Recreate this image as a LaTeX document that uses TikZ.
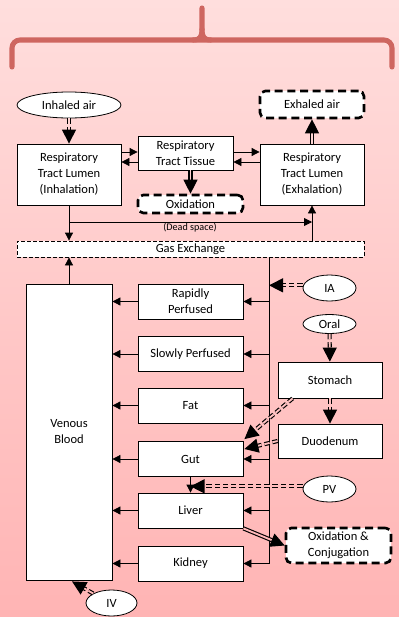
\documentclass[tikz,border=0pt]{standalone}
\usepackage{fontspec}
\setmainfont{Carlito}
\definecolor{pkTop}{RGB}{255, 222, 221}
\definecolor{pkBottom}{RGB}{255, 180, 180}
\definecolor{pkBrace}{RGB}{206, 102, 96}
\usepackage{tikz}
\usetikzlibrary{
  shapes.geometric,
  arrows.meta,
  positioning,
  calc
}
\tikzset{
  % Kutular
  basenode/.style={
    draw=black,
    fill=white,
    line width=0.6pt,
    inner sep=0pt,
    text centered,
    align=center,
    font=\fontsize{9.4}{12}\selectfont
  },
  compbox/.style={basenode, minimum width=78.75pt, minimum height=26.25pt},
  lumenbox/.style={basenode, minimum width=78pt, minimum height=45.75pt},
  sidebox/.style={basenode, minimum width=78pt, minimum height=26.25pt},
  fatebox/.style={basenode, rounded corners=4pt, line width=2pt, dash pattern=on 6pt off 3.5pt},
  gasbox/.style={basenode, dash pattern=on 3pt off 1.5pt, minimum width=260.25pt, minimum height=12pt},
  routenode/.style={basenode, ellipse, minimum width=39.75pt, minimum height=19.5pt},
  % Oklar (parametre = arka plan tonu)
  arrow/.style={-{Triangle[length=6pt, width=6pt]}, line width=0.6pt},
  dblarrow/.style={-{Triangle[length=10.5pt, width=10.5pt]}, double=pkBottom!#1!pkTop, double distance=1.4pt, line width=0.85pt},
  dbldash/.style={dblarrow=#1, dash pattern=on 4pt off 2.2pt},
  % Küçük etiket
  label node/.style={font=\fontsize{7.6}{9}\selectfont, inner sep=1pt}
}
\begin{document}
\begin{tikzpicture}[x=0.75pt, y=-0.75pt]
  \fill[top color=pkTop, bottom color=pkBottom] (0,0) rectangle (399,617);
  \useasboundingbox (0,0) rectangle (399,617);
  % brace
  \draw[pkBrace, line width=3.8pt, line cap=round, rounded corners=6pt]
    (12,67) -- (12,40) -- (392,40) -- (392,67);
  \draw[pkBrace, line width=3.8pt, line cap=round]
    (193,40) .. controls (200,40) and (202,37) .. (202,29) -- (202,8);
  \draw[pkBrace, line width=3.8pt, line cap=round]
    (211,40) .. controls (204,40) and (202,37) .. (202,29);

  \node[basenode, ellipse, minimum width=78pt, minimum height=19.5pt] (inair) at (69,105) {Inhaled air};
  \node[fatebox, minimum width=78pt, minimum height=20.25pt] (exair) at (312,104.5) {Exhaled air};
  \node[lumenbox] (inh) at (69,174.5) {Respiratory\\Tract Lumen\\(Inhalation)};
  \node[basenode, minimum width=71.25pt, minimum height=25.5pt] (tis) at (185.5,153) {Respiratory\\Tract Tissue};
  \node[lumenbox] (exh) at (312,174.5) {Respiratory\\Tract Lumen\\(Exhalation)};
  \node[fatebox, minimum width=78.75pt, minimum height=13.5pt] (oxi) at (190.5,204) {Oxidation};
  \node[gasbox] (gas) at (190.5,249) {Gas Exchange};
  \node[label node] (dead) at (190,227.5) {(Dead space)};

  \node[basenode, minimum width=64.5pt, minimum height=222pt] (ven) at (69,432) {Venous\\Blood};
  \node[compbox] (rap) at (190.5,301.5) {Rapidly\\Perfused};
  \node[compbox] (slow) at (190.5,354) {Slowly Perfused};
  \node[compbox] (fat) at (190.5,405.5) {Fat};
  \node[compbox] (gut) at (190.5,459) {Gut};
  \node[compbox] (liv) at (190.5,510.5) {Liver};
  \node[compbox] (kid) at (190.5,563.5) {Kidney};

  \node[routenode] (ia) at (329.5,288) {IA};
  \node[routenode, minimum height=14.25pt] (oral) at (329.5,324) {Oral};
  \node[sidebox, minimum height=27pt] (stom) at (330,380) {Stomach};
  \node[sidebox, minimum height=25.5pt] (duo) at (330,441) {Duodenum};
  \node[routenode] (pv) at (329.5,489) {PV};
  \node[fatebox, minimum width=78.75pt, minimum height=26.25pt] (oxcon) at (338.5,545.5) {Oxidation \&\\Conjugation};
  \node[routenode, minimum width=38.25pt] (iv) at (111.5,603) {IV};

  % respiratory part
  \draw[dbldash=21] (inair) -- (inh);
  \draw[arrow] (inh.east |- 0,152) -- (tis.west |- 0,152);
  \draw[arrow] (tis.west |- 0,162) -- (inh.east |- 0,162);
  \draw[arrow] (tis.east |- 0,152) -- (exh.west |- 0,152);
  \draw[arrow] (exh.west |- 0,162) -- (tis.east |- 0,162);
  \draw[dblarrow=30] (oxi.north |- tis.south) -- (oxi.north);
  \draw[dblarrow=21] (exh) -- (exair);
  \draw[arrow] (inh.south) |- (exh.south |- 0,222);
  \draw[arrow] (inh.south) -- (inh.south |- gas.north);
  \draw[arrow] (exh.south |- gas.north) -- (exh.south);
  \draw[arrow] (ven.north) -- (ven.north |- gas.south);

  % arterial side
  \draw[line width=0.6pt] (gas.south -| 269,0) -- (kid.east -| 269,0);
  \foreach \org in {rap,slow,fat,gut,liv,kid} {
    \draw[arrow] (\org.east -| 269,0) -- (\org.east);
    \draw[arrow] (\org.west) -- (\org.west -| ven.east);
  }

  % dosing routes
  \draw[dbldash=46] ([yshift=2pt]ia.west) -- ([yshift=2pt]ia.west -| 269,0);
  \draw[dbldash=55] (oral) -- (stom);
  \draw[dbldash=66] (stom) -- (duo);
  \draw[dbldash=68] ($(stom.south west)+(15,0)$) -- ($(gut.north east)+(1,-2)$);
  \draw[dbldash=72] (duo.west) -- ($(gut.east)+(1,-10)$);
  \draw[arrow] (gut.south -| liv.north) -- (liv.north);
  \draw[dbldash=79] ([yshift=2pt]pv.west) -- ([yshift=2pt]pv.west -| liv.north);
  \draw[dblarrow=87] (liv.south east) -- (oxcon.west);
  \draw[dbldash=95] (iv.north west) -- ($(ven.south)+(3,1)$);
\end{tikzpicture}
\end{document}
